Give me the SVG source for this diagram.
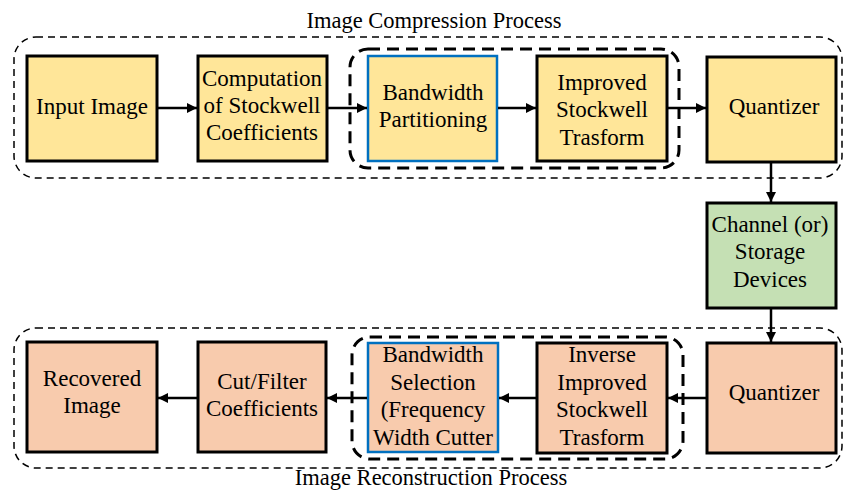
<svg xmlns="http://www.w3.org/2000/svg" width="843" height="490" viewBox="0 0 843 490" font-family="'Liberation Serif', 'Times New Roman', 'DejaVu Serif', serif">
<style>
text{font-family:"Liberation Serif","Times New Roman","DejaVu Serif",serif;font-size:23px;fill:#000;text-anchor:middle}
.ttl{font-size:22.5px}
.box{stroke:#000;stroke-width:3}
.yel{fill:#FFE699}
.pch{fill:#F8CBAD}
.grn{fill:#C5E0B4}
.blue{stroke:#0070C0;stroke-width:2.5}
.outer{fill:none;stroke:#000;stroke-width:1.5;stroke-dasharray:7 5}
.inner{fill:none;stroke:#000;stroke-width:3;stroke-dasharray:12 7}
.conn line{stroke:#000;stroke-width:2.5}
</style>
<defs>
<marker id="ah" viewBox="0 0 10 10" refX="10" refY="5" markerWidth="4" markerHeight="4" orient="auto" markerUnits="strokeWidth">
<path d="M0,0 L10,5 L0,10 z" fill="#000"/>
</marker>
</defs>
<g id="groups">
<rect class="outer" x="14" y="37" width="828" height="141" rx="22"/>
<rect class="inner" x="350" y="49" width="329" height="119" rx="18"/>
<rect class="outer" x="14" y="328" width="828" height="140" rx="22"/>
<rect class="inner" x="352" y="337" width="331" height="122" rx="18"/>
<text class="ttl" x="434" y="28">Image Compression Process</text>
<text class="ttl" x="431" y="485">Image Reconstruction Process</text>
</g>
<g id="input-image">
<rect class="box yel" x="27" y="56" width="130" height="105"/>
<text x="92" y="114">Input Image</text>
</g>
<g id="computation">
<rect class="box yel" x="198" y="56" width="129" height="105"/>
<text x="262" y="86">Computation</text>
<text x="262" y="113">of Stockwell</text>
<text x="262" y="140">Coefficients</text>
</g>
<g id="bandwidth-partitioning">
<rect class="yel blue" x="368" y="56" width="129" height="105"/>
<text x="433" y="100">Bandwidth</text>
<text x="433" y="127">Partitioning</text>
</g>
<g id="improved-st">
<rect class="box yel" x="537" y="56" width="130" height="105"/>
<text x="602" y="90">Improved</text>
<text x="602" y="117">Stockwell</text>
<text x="602" y="145">Trasform</text>
</g>
<g id="quantizer-top">
<rect class="box yel" x="707" y="57" width="129" height="105"/>
<text x="774" y="114">Quantizer</text>
</g>
<g id="channel">
<rect class="box grn" x="707" y="203" width="129" height="105"/>
<text x="770" y="232">Channel (or)</text>
<text x="770" y="259">Storage</text>
<text x="770" y="287">Devices</text>
</g>
<g id="quantizer-bottom">
<rect class="box pch" x="707" y="343" width="129" height="110"/>
<text x="774" y="400">Quantizer</text>
</g>
<g id="inverse-st">
<rect class="box pch" x="537" y="343" width="130" height="110"/>
<text x="602" y="362">Inverse</text>
<text x="602" y="390">Improved</text>
<text x="602" y="417">Stockwell</text>
<text x="602" y="445">Trasform</text>
</g>
<g id="bandwidth-selection">
<rect class="pch blue" x="368" y="343" width="130" height="109"/>
<text x="433" y="362">Bandwidth</text>
<text x="433" y="390">Selection</text>
<text x="433" y="417">(Frequency</text>
<text x="433" y="445">Width Cutter</text>
</g>
<g id="cut-filter">
<rect class="box pch" x="198" y="342" width="128" height="110"/>
<text x="262" y="389">Cut/Filter</text>
<text x="262" y="416">Coefficients</text>
</g>
<g id="recovered-image">
<rect class="box pch" x="27" y="342" width="130" height="110"/>
<text x="92" y="386">Recovered</text>
<text x="92" y="413">Image</text>
</g>
<g class="conn" id="connectors">
<line x1="158" y1="108" x2="197" y2="108" marker-end="url(#ah)"/>
<line x1="328" y1="108" x2="367" y2="108" marker-end="url(#ah)"/>
<line x1="498" y1="108" x2="536" y2="108" marker-end="url(#ah)"/>
<line x1="668" y1="108" x2="706" y2="108" marker-end="url(#ah)"/>
<line x1="771" y1="163" x2="771" y2="202" marker-end="url(#ah)"/>
<line x1="771" y1="309" x2="771" y2="342" marker-end="url(#ah)"/>
<line x1="706" y1="398" x2="668" y2="398" marker-end="url(#ah)"/>
<line x1="536" y1="398" x2="499" y2="398" marker-end="url(#ah)"/>
<line x1="367" y1="398" x2="327" y2="398" marker-end="url(#ah)"/>
<line x1="197" y1="398" x2="158" y2="398" marker-end="url(#ah)"/>
</g>
</svg>
